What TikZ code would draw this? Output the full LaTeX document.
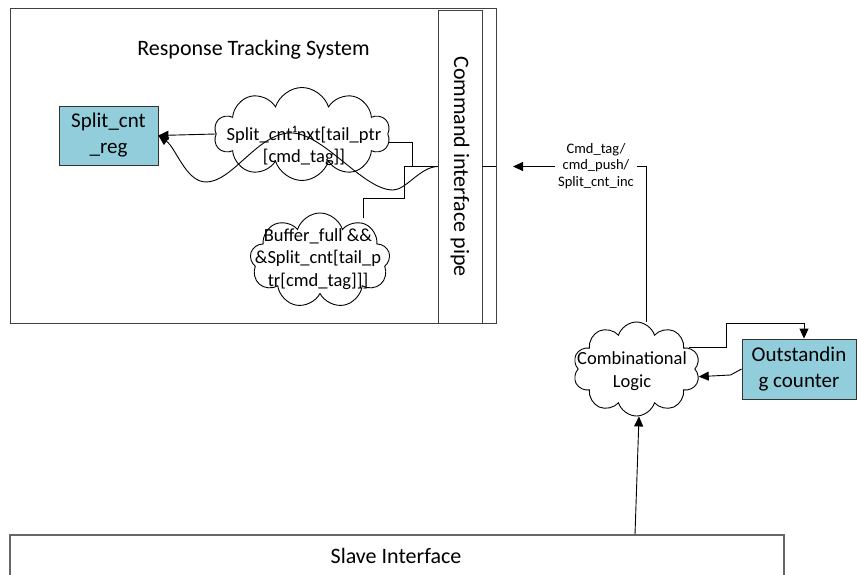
\documentclass[tikz,border=0pt]{standalone}
\usepackage{fontspec}
\setmainfont{Carlito}
\usetikzlibrary{shapes.symbols,arrows.meta,calc}
\definecolor{regblue}{RGB}{146,205,220}
\begin{document}
\begin{tikzpicture}[x=1pt,y=-1pt,
  line width=0.9pt,
  tip/.style={-{Triangle[length=10pt,width=9pt]}},
  boxframe/.style={draw=black!75, inner sep=0pt},
  regbox/.style={draw=black!80, fill=regblue, inner sep=0pt, align=center,
    font=\fontsize{21}{26}\selectfont},
  puffy/.style={cloud, draw, cloud ignores aspect, inner sep=0pt, cloud puffs=#1,
    cloud puff arc=145},
  cloudtxt/.style={align=center, inner sep=0pt, font=\fontsize{18.5}{22.5}\selectfont},
  bigtxt/.style={inner sep=0pt, font=\fontsize{22}{26}\selectfont},
  ]
\useasboundingbox (0,0) rectangle (857,575);
\clip (0,0) rectangle (857,575);
\fill[white] (0,0) rectangle (857,575);

% Response tracking block
\node[boxframe, minimum width=486pt, minimum height=315pt] (rts) at (253,165.5) {};
\node[bigtxt, anchor=base] (title) at (253.5,56) {Response Tracking System};
\node[boxframe, minimum width=44pt, minimum height=313pt] (pipe) at (460,166.5) {};
\node[bigtxt, rotate=-90] (pipetxt) at (pipe.center) {Command interface pipe};
\node[regbox, minimum width=99pt, minimum height=59pt] (reg) at (108.5,135.5) {Split\_cnt\\\_reg};

\node[puffy=10, minimum width=176pt, minimum height=93pt] (c1) at (302,134) {};
\node[cloudtxt] (c1txt) at (304,146) {Split\_cnt¹nxt[tail\_ptr\\{}[cmd\_tag]]};

\node[puffy=9, minimum width=140pt, minimum height=95pt] (buf) at (320,260.5) {};
\node[cloudtxt] (buftxt) at (318,259) {Buffer\_full \&\&\\\&Split\_cnt[tail\_p\\tr[cmd\_tag]]]};

% Counter logic
\node[puffy=10, minimum width=127pt, minimum height=94pt] (comb) at (636.5,369) {};
\node[cloudtxt] (combtxt) at (632,371) {Combinational\\Logic};
\node[regbox, minimum width=114pt, minimum height=60pt] (outs) at (799,369) {Outstandin\\g counter};

% Slave interface
\node[draw=black!60, line width=1.2pt, minimum width=774pt, minimum height=70pt, inner sep=0pt] (slave) at (397,570) {};
\node[bigtxt, anchor=base] (slavetxt) at (396,563) {Slave Interface};

% Connectors inside the tracking block
\draw[tip] (c1.west) -- (reg.east);
\draw[tip] (pipe.west) .. controls (420,167) and (406,190) .. (393,190)
  .. controls (362,190) and (322,130) .. (288,133)
  .. controls (256,136) and (232,182) .. (206,182)
  .. controls (186,182) and (176,148) .. (reg.east);
\draw ($(c1.east)+(0,8)$) -| ($(pipe.west)+(-25,0)$) -- (pipe.west);
\draw (pipe.west) -- ++(-33,0) |- ($(buf.center)+(43,-62)$) -- ($(buf.center)+(43,-43)$);
\draw (pipe.east) -- (pipe.east -| rts.east);

% Command path
\coordinate (cmdend) at (513,166.5);
\draw[tip] ($(comb.north)+(9.5,0)$) |- (cmdend);
\node[fill=white, inner sep=3pt, align=center, font=\fontsize{14.5}{16.5}\selectfont]
  (cmdlbl) at (596,166) {Cmd\_tag/\\cmd\_push/\\Split\_cnt\_inc};

% Counter feedback loop
\draw[tip] (comb.22) -| (726,323) -| ([xshift=5pt]outs.north);
\draw[tip] (outs.west) -- ++(-11,6) -- (comb.-7);

% Slave interface to logic
\draw[tip] ([xshift=238pt]slave.north) -- ([xshift=2.5pt]comb.south);
\end{tikzpicture}
\end{document}
